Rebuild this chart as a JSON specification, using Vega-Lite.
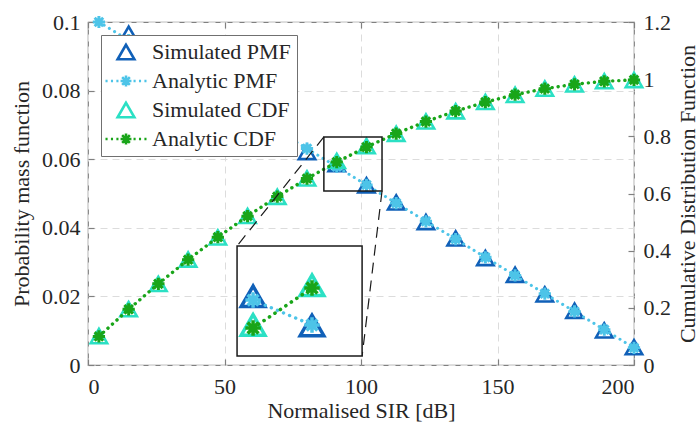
{
  "$schema": "https://vega.github.io/schema/vega-lite/v6.json",
  "width": 546,
  "height": 343,
  "autosize": "none",
  "padding": {"left": 88, "top": 22, "right": 65, "bottom": 59},
  "background": "white",
  "config": {
    "view": {"stroke": "#808080", "strokeWidth": 1.2},
    "font": "Liberation Serif",
    "axis": {
      "labelFont": "Liberation Serif", "titleFont": "Liberation Serif",
      "labelFontSize": 22, "titleFontSize": 22, "titleFontWeight": "normal",
      "labelColor": "#262626", "titleColor": "#262626",
      "tickColor": "#808080", "tickWidth": 1.2, "domain": false,
      "gridColor": "#dcdcdc", "gridDash": [7, 5], "gridWidth": 1
    }
  },
  "datasets": {
    "d": [
      {"s": "Simulated PMF", "k": 0, "x": 4, "v": 0.1018},
      {"s": "Simulated PMF", "k": 1, "x": 14.89, "v": 0.0966},
      {"s": "Simulated PMF", "k": 2, "x": 25.78, "v": 0.0897},
      {"s": "Simulated PMF", "k": 3, "x": 36.67, "v": 0.0839},
      {"s": "Simulated PMF", "k": 4, "x": 47.56, "v": 0.0792},
      {"s": "Simulated PMF", "k": 5, "x": 58.44, "v": 0.0733},
      {"s": "Simulated PMF", "k": 6, "x": 69.33, "v": 0.0686},
      {"s": "Simulated PMF", "k": 7, "x": 80.22, "v": 0.0621},
      {"s": "Simulated PMF", "k": 8, "x": 91.11, "v": 0.0586},
      {"s": "Simulated PMF", "k": 9, "x": 102, "v": 0.0524},
      {"s": "Simulated PMF", "k": 10, "x": 112.89, "v": 0.0474},
      {"s": "Simulated PMF", "k": 11, "x": 123.78, "v": 0.0417},
      {"s": "Simulated PMF", "k": 12, "x": 134.67, "v": 0.0369},
      {"s": "Simulated PMF", "k": 13, "x": 145.56, "v": 0.0312},
      {"s": "Simulated PMF", "k": 14, "x": 156.44, "v": 0.0263},
      {"s": "Simulated PMF", "k": 15, "x": 167.33, "v": 0.0206},
      {"s": "Simulated PMF", "k": 16, "x": 178.22, "v": 0.0158},
      {"s": "Simulated PMF", "k": 17, "x": 189.11, "v": 0.0101},
      {"s": "Simulated PMF", "k": 18, "x": 200, "v": 0.0052},
      {"s": "Analytic PMF", "k": 0, "x": 4, "v": 0.1},
      {"s": "Analytic PMF", "k": 1, "x": 14.89, "v": 0.0947},
      {"s": "Analytic PMF", "k": 2, "x": 25.78, "v": 0.0894},
      {"s": "Analytic PMF", "k": 3, "x": 36.67, "v": 0.0842},
      {"s": "Analytic PMF", "k": 4, "x": 47.56, "v": 0.0789},
      {"s": "Analytic PMF", "k": 5, "x": 58.44, "v": 0.0736},
      {"s": "Analytic PMF", "k": 6, "x": 69.33, "v": 0.0683},
      {"s": "Analytic PMF", "k": 7, "x": 80.22, "v": 0.0631},
      {"s": "Analytic PMF", "k": 8, "x": 91.11, "v": 0.0578},
      {"s": "Analytic PMF", "k": 9, "x": 102, "v": 0.0525},
      {"s": "Analytic PMF", "k": 10, "x": 112.89, "v": 0.0472},
      {"s": "Analytic PMF", "k": 11, "x": 123.78, "v": 0.0419},
      {"s": "Analytic PMF", "k": 12, "x": 134.67, "v": 0.0367},
      {"s": "Analytic PMF", "k": 13, "x": 145.56, "v": 0.0314},
      {"s": "Analytic PMF", "k": 14, "x": 156.44, "v": 0.0261},
      {"s": "Analytic PMF", "k": 15, "x": 167.33, "v": 0.0208},
      {"s": "Analytic PMF", "k": 16, "x": 178.22, "v": 0.0156},
      {"s": "Analytic PMF", "k": 17, "x": 189.11, "v": 0.0103},
      {"s": "Analytic PMF", "k": 18, "x": 200, "v": 0.005},
      {"s": "Simulated CDF", "k": 0, "x": 4, "v": 0.1012},
      {"s": "Simulated CDF", "k": 1, "x": 14.89, "v": 0.1955},
      {"s": "Simulated CDF", "k": 2, "x": 25.78, "v": 0.2838},
      {"s": "Simulated CDF", "k": 3, "x": 36.67, "v": 0.369},
      {"s": "Simulated CDF", "k": 4, "x": 47.56, "v": 0.4466},
      {"s": "Simulated CDF", "k": 5, "x": 58.44, "v": 0.5215},
      {"s": "Simulated CDF", "k": 6, "x": 69.33, "v": 0.5885},
      {"s": "Simulated CDF", "k": 7, "x": 80.22, "v": 0.653},
      {"s": "Simulated CDF", "k": 8, "x": 91.11, "v": 0.714},
      {"s": "Simulated CDF", "k": 9, "x": 102, "v": 0.766},
      {"s": "Simulated CDF", "k": 10, "x": 112.89, "v": 0.809},
      {"s": "Simulated CDF", "k": 11, "x": 123.78, "v": 0.8522},
      {"s": "Simulated CDF", "k": 12, "x": 134.67, "v": 0.8877},
      {"s": "Simulated CDF", "k": 13, "x": 145.56, "v": 0.9203},
      {"s": "Simulated CDF", "k": 14, "x": 156.44, "v": 0.9452},
      {"s": "Simulated CDF", "k": 15, "x": 167.33, "v": 0.9671},
      {"s": "Simulated CDF", "k": 16, "x": 178.22, "v": 0.9818},
      {"s": "Simulated CDF", "k": 17, "x": 189.11, "v": 0.993},
      {"s": "Simulated CDF", "k": 18, "x": 200, "v": 0.9972},
      {"s": "Analytic CDF", "k": 0, "x": 4, "v": 0.1},
      {"s": "Analytic CDF", "k": 1, "x": 14.89, "v": 0.1947},
      {"s": "Analytic CDF", "k": 2, "x": 25.78, "v": 0.2841},
      {"s": "Analytic CDF", "k": 3, "x": 36.67, "v": 0.3683},
      {"s": "Analytic CDF", "k": 4, "x": 47.56, "v": 0.4472},
      {"s": "Analytic CDF", "k": 5, "x": 58.44, "v": 0.5208},
      {"s": "Analytic CDF", "k": 6, "x": 69.33, "v": 0.5891},
      {"s": "Analytic CDF", "k": 7, "x": 80.22, "v": 0.6522},
      {"s": "Analytic CDF", "k": 8, "x": 91.11, "v": 0.71},
      {"s": "Analytic CDF", "k": 9, "x": 102, "v": 0.7625},
      {"s": "Analytic CDF", "k": 10, "x": 112.89, "v": 0.8097},
      {"s": "Analytic CDF", "k": 11, "x": 123.78, "v": 0.8516},
      {"s": "Analytic CDF", "k": 12, "x": 134.67, "v": 0.8883},
      {"s": "Analytic CDF", "k": 13, "x": 145.56, "v": 0.9197},
      {"s": "Analytic CDF", "k": 14, "x": 156.44, "v": 0.9458},
      {"s": "Analytic CDF", "k": 15, "x": 167.33, "v": 0.9666},
      {"s": "Analytic CDF", "k": 16, "x": 178.22, "v": 0.9822},
      {"s": "Analytic CDF", "k": 17, "x": 189.11, "v": 0.9925},
      {"s": "Analytic CDF", "k": 18, "x": 200, "v": 0.9975}
    ],
    "ann": [
      {"kind": "zoombox", "x1": 86.4, "x2": 107.7, "y1": 0.0507, "y2": 0.0665},
      {"kind": "inset", "x1": 54.6, "x2": 100.4, "y1": 0.0026, "y2": 0.0347},
      {"kind": "link", "x1": 86.4, "y1": 0.0665, "x2": 54.6, "y2": 0.0347},
      {"kind": "link", "x1": 107.7, "y1": 0.0507, "x2": 100.4, "y2": 0.0026}
    ]
  },
  "resolve": {"scale": {"x": "independent", "y": "independent"}, "axis": {"x": "independent", "y": "independent"}},
  "layer": [
    {
      "data": {"name": "d"},
      "encoding": {
        "x": {"field": "x", "type": "quantitative", "scale": {"domain": [0, 200], "nice": false, "zero": false},
          "axis": {"values": [0, 50, 100, 150, 200], "format": "d", "tickSize": -6, "labelPadding": 17, "grid": true, "title": "Normalised SIR [dB]", "titlePadding": 3}},
        "y": {"field": "v", "type": "quantitative", "scale": {"domain": [0, 0.1], "nice": false},
          "axis": {"values": [0, 0.02, 0.04, 0.06, 0.08, 0.1], "format": "~g", "tickSize": -6, "labelPadding": 14, "grid": true, "title": "Probability mass function", "titlePadding": 8}}
      },
      "layer": [
        {
          "transform": [{"filter": "datum.s == 'Simulated PMF' && datum.v <= 0.1"}],
          "mark": {"type": "point", "filled": false, "strokeWidth": 2.6, "size": 270, "opacity": 1},
          "encoding": {
            "color": {"field": "s", "type": "nominal",
              "scale": {"domain": ["Simulated PMF", "Analytic PMF", "Simulated CDF", "Analytic CDF"], "range": ["#1060B8", "#4DC4E8", "#2BE0C4", "#19A519"]},
              "legend": {
                "title": null, "orient": "none", "legendX": 13, "legendY": 13,
                "fillColor": "white", "strokeColor": "#707070", "padding": 6,
                "labelFont": "Liberation Serif", "labelFontSize": 22, "labelColor": "#262626", "labelLimit": 400,
                "symbolSize": 280, "symbolStrokeWidth": 2.6, "symbolOffset": 8, "labelOffset": 15, "rowPadding": 5
              }},
            "shape": {"field": "s", "type": "nominal",
              "scale": {"domain": ["Simulated PMF", "Analytic PMF", "Simulated CDF", "Analytic CDF"],
                "range": ["triangle-up",
                  "M-2.45,0L-2.2,0M-1.8,0L-1.55,0M-1.15,0L-0.9,0M0.9,0L1.15,0M1.55,0L1.8,0M2.2,0L2.45,0M-0.65,0L0.65,0M0,-0.65L0,0.65M-0.46,-0.46L0.46,0.46M-0.46,0.46L0.46,-0.46",
                  "triangle-up",
                  "M-2.45,0L-2.2,0M-1.8,0L-1.55,0M-1.15,0L-0.9,0M0.9,0L1.15,0M1.55,0L1.8,0M2.2,0L2.45,0M-0.65,0L0.65,0M0,-0.65L0,0.65M-0.46,-0.46L0.46,0.46M-0.46,0.46L0.46,-0.46"]}}
          }
        },
        {
          "transform": [{"filter": "datum.s == 'Analytic PMF'"}],
          "mark": {"type": "line", "color": "#4DC4E8", "strokeWidth": 3, "strokeDash": [0.1, 6], "strokeCap": "round"}
        },
        {
          "transform": [{"filter": "datum.s == 'Analytic PMF'"}],
          "mark": {"type": "point", "shape": "M-1,0L1,0M0,-1L0,1M-0.7,-0.7L0.7,0.7M-0.7,0.7L0.7,-0.7", "filled": false, "strokeWidth": 3, "size": 150, "opacity": 1},
          "encoding": {"color": {"field": "s", "type": "nominal"}}
        }
      ]
    },
    {
      "data": {"name": "d"},
      "encoding": {
        "x": {"field": "x", "type": "quantitative", "scale": {"domain": [0, 200], "nice": false, "zero": false}, "axis": null},
        "y": {"field": "v", "type": "quantitative", "scale": {"domain": [0, 1.2], "nice": false},
          "axis": {"orient": "right", "values": [0, 0.2, 0.4, 0.6, 0.8, 1, 1.2], "format": "~g", "tickSize": -6, "labelPadding": 15, "grid": false, "title": "Cumulative Distribution Function", "titleAngle": 270, "titleBaseline": "top", "titlePadding": 7}}
      },
      "layer": [
        {
          "transform": [{"filter": "datum.s == 'Simulated CDF'"}],
          "mark": {"type": "point", "filled": false, "strokeWidth": 2.6, "size": 270, "opacity": 1},
          "encoding": {"color": {"field": "s", "type": "nominal"}, "shape": {"field": "s", "type": "nominal"}}
        },
        {
          "transform": [{"filter": "datum.s == 'Analytic CDF'"}],
          "mark": {"type": "line", "color": "#19A519", "strokeWidth": 3.4, "strokeDash": [0.1, 6], "strokeCap": "round"}
        },
        {
          "transform": [{"filter": "datum.s == 'Analytic CDF'"}],
          "mark": {"type": "point", "shape": "M-1,0L1,0M0,-1L0,1M-0.7,-0.7L0.7,0.7M-0.7,0.7L0.7,-0.7", "filled": false, "strokeWidth": 3, "size": 150, "opacity": 1},
          "encoding": {"color": {"field": "s", "type": "nominal"}}
        }
      ]
    },
    {
      "data": {"name": "ann"},
      "encoding": {
        "x": {"field": "x1", "type": "quantitative", "scale": {"domain": [0, 200], "nice": false, "zero": false},
          "axis": {"orient": "top", "values": [0, 50, 100, 150, 200], "labels": false, "grid": false, "tickSize": -6, "title": null}},
        "y": {"field": "y1", "type": "quantitative", "scale": {"domain": [0, 0.1], "nice": false}, "axis": null},
        "x2": {"field": "x2"},
        "y2": {"field": "y2"}
      },
      "layer": [
        {
          "transform": [{"filter": "datum.kind == 'link'"}],
          "mark": {"type": "rule", "color": "#1a1a1a", "strokeWidth": 1.2, "strokeDash": [11, 7]}
        },
        {
          "transform": [{"filter": "datum.kind == 'zoombox'"}],
          "mark": {"type": "rect", "fill": null, "fillOpacity": 0, "stroke": "#1a1a1a", "strokeWidth": 1.5}
        },
        {
          "transform": [{"filter": "datum.kind == 'inset'"}],
          "mark": {"type": "rect", "fill": "white", "stroke": "#1a1a1a", "strokeWidth": 1.5}
        }
      ]
    },
    {
      "data": {"name": "d"},
      "transform": [{"filter": "datum.k == 8 || datum.k == 9"}],
      "encoding": {
        "x": {"field": "x", "type": "quantitative", "scale": {"domain": [88.14, 111.24], "range": [149, 274], "nice": false, "zero": false}, "axis": null},
        "y": {"field": "v", "type": "quantitative", "scale": {"domain": [0.0459, 0.0693], "range": [334, 224], "nice": false, "zero": false}, "axis": null}
      },
      "layer": [
        {
          "transform": [{"filter": "datum.s == 'Simulated PMF'"}],
          "mark": {"type": "point", "shape": "triangle-up", "filled": false, "strokeWidth": 3.5, "size": 560, "opacity": 1},
          "encoding": {"color": {"field": "s", "type": "nominal"}}
        },
        {
          "transform": [{"filter": "datum.s == 'Analytic PMF'"}],
          "mark": {"type": "line", "color": "#4DC4E8", "strokeWidth": 3.4, "strokeDash": [0.1, 6.5], "strokeCap": "round"}
        },
        {
          "transform": [{"filter": "datum.s == 'Analytic PMF'"}],
          "mark": {"type": "point", "shape": "M-1,0L1,0M0,-1L0,1M-0.7,-0.7L0.7,0.7M-0.7,0.7L0.7,-0.7", "filled": false, "strokeWidth": 3.5, "size": 240, "opacity": 1},
          "encoding": {"color": {"field": "s", "type": "nominal"}}
        }
      ]
    },
    {
      "data": {"name": "d"},
      "transform": [{"filter": "datum.k == 8 || datum.k == 9"}],
      "encoding": {
        "x": {"field": "x", "type": "quantitative", "scale": {"domain": [88.14, 111.24], "range": [149, 274], "nice": false, "zero": false}, "axis": null},
        "y": {"field": "v", "type": "quantitative", "scale": {"domain": [0.6733, 0.8176], "range": [334, 224], "nice": false, "zero": false}, "axis": null}
      },
      "layer": [
        {
          "transform": [{"filter": "datum.s == 'Simulated CDF'"}],
          "mark": {"type": "point", "shape": "triangle-up", "filled": false, "strokeWidth": 3.5, "size": 560, "opacity": 1},
          "encoding": {"color": {"field": "s", "type": "nominal"}}
        },
        {
          "transform": [{"filter": "datum.s == 'Analytic CDF'"}],
          "mark": {"type": "line", "color": "#19A519", "strokeWidth": 3.6, "strokeDash": [0.1, 6.5], "strokeCap": "round"}
        },
        {
          "transform": [{"filter": "datum.s == 'Analytic CDF'"}],
          "mark": {"type": "point", "shape": "M-1,0L1,0M0,-1L0,1M-0.7,-0.7L0.7,0.7M-0.7,0.7L0.7,-0.7", "filled": false, "strokeWidth": 3.5, "size": 240, "opacity": 1},
          "encoding": {"color": {"field": "s", "type": "nominal"}}
        }
      ]
    }
  ]
}
